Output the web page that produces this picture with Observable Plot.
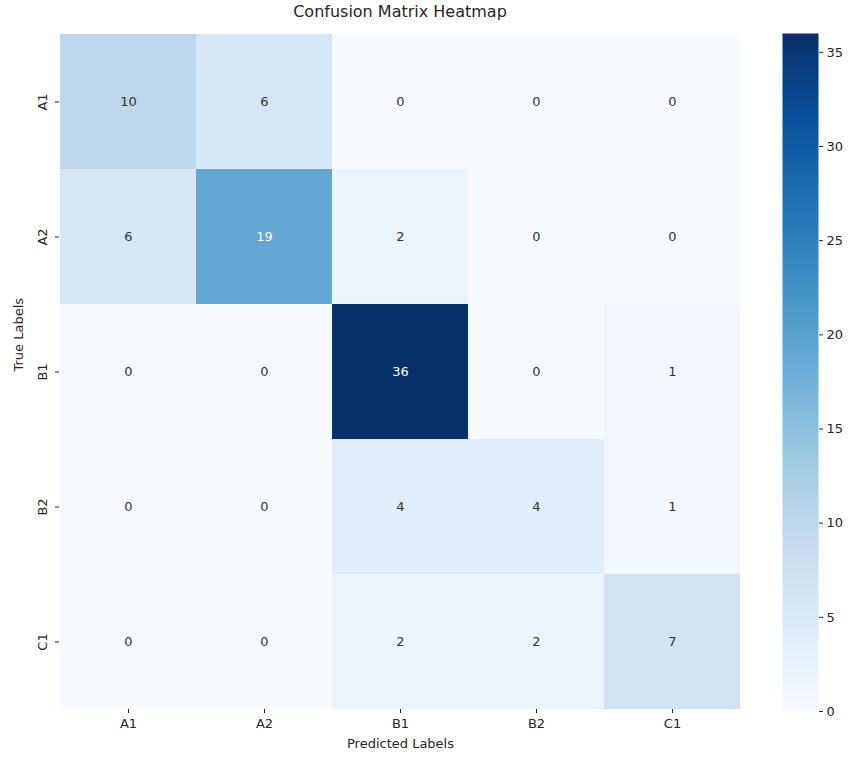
<!DOCTYPE html>
<html><head><meta charset="utf-8">
<script src="https://cdn.jsdelivr.net/npm/d3@7"></script>
<script src="https://cdn.jsdelivr.net/npm/@observablehq/plot@0.6"></script>
<style>
body{margin:0;background:#fff;font-family:"DejaVu Sans",sans-serif;}
#wrap{position:relative;width:851px;height:762px;overflow:hidden;}
#title{position:absolute;left:0;width:800px;top:2px;text-align:center;font-size:16px;color:#262626;font-family:"DejaVu Sans",sans-serif;}
#main{position:absolute;left:0;top:0;}
#cbar{position:absolute;left:760px;top:0;}
</style></head><body>
<div id="wrap"><div id="title">Confusion Matrix Heatmap</div><div id="main"></div><div id="cbar"></div></div>
<script>
// Data
const labels = ["A1", "A2", "B1", "B2", "C1"];
const rowA1 = [10, 6, 0, 0, 0];
const rowA2 = [6, 19, 2, 0, 0];
const rowB1 = [0, 0, 36, 0, 1];
const rowB2 = [0, 0, 4, 4, 1];
const rowC1 = [0, 0, 2, 2, 7];
const colorbarTicks = [0, 5, 10, 15, 20, 25, 30, 35];
const vmax = 36;

const matrix = [rowA1, rowA2, rowB1, rowB2, rowC1];
const cells = [];
labels.forEach((t, i) => labels.forEach((p, j) => cells.push({trueLabel: t, predLabel: p, value: matrix[i][j]})));

// matplotlib "Blues" colormap stops
const BLUES = ["#f7fbff","#deebf7","#c6dbef","#9ecae1","#6baed6","#4292c6","#2171b5","#08519c","#08306b"];
const interp = d3.piecewise(d3.interpolateRgb, BLUES);
const colorOpts = {type: "linear", domain: [0, vmax], interpolate: interp};

function isDark(v) {
  const c = d3.rgb(interp(v / vmax));
  const lin = x => { x /= 255; return x <= 0.03928 ? x / 12.92 : Math.pow((x + 0.055) / 1.055, 2.4); };
  const lum = 0.2126 * lin(c.r) + 0.7152 * lin(c.g) + 0.0722 * lin(c.b);
  return lum <= 0.408;
}

const font = {fontFamily: "DejaVu Sans", fontSize: "13px", color: "#262626", background: "transparent", overflow: "visible"};

const main = Plot.plot({
  width: 760, height: 762,
  marginLeft: 59, marginRight: 19, marginTop: 33, marginBottom: 53,
  style: font,
  x: {domain: labels, padding: 0, label: null},
  y: {domain: labels, padding: 0, label: null},
  color: colorOpts,
  marks: [
    Plot.cell(cells, {x: "predLabel", y: "trueLabel", fill: "value"}),
    Plot.text(cells, {x: "predLabel", y: "trueLabel", text: "value", filter: d => !isDark(d.value), fill: "#333333", fontSize: 13}),
    Plot.text(cells, {x: "predLabel", y: "trueLabel", text: "value", filter: d => isDark(d.value), fill: "white", fontSize: 13}),
    Plot.axisX({tickSize: 4, tickPadding: 5, label: null, fontSize: 13}),
    Plot.axisY({tickSize: 4, tickPadding: 9, tickRotate: -90, label: null, fontSize: 13}),
    Plot.text(["Predicted Labels"], {frameAnchor: "bottom", dy: 38, fontSize: 13, fill: "#262626"}),
    Plot.text(["True Labels"], {frameAnchor: "left", dx: -41, rotate: -90, fontSize: 13, fill: "#262626"})
  ]
});
document.getElementById("main").appendChild(main);

const cbar = Plot.plot({
  width: 91, height: 762,
  marginLeft: 22, marginRight: 33, marginTop: 33, marginBottom: 51,
  style: font,
  x: {domain: [0, 1], axis: null},
  y: {domain: [0, vmax], label: null},
  color: colorOpts,
  marks: [
    Plot.raster({x1: 0, x2: 1, y1: 0, y2: vmax, width: 1, height: 400, fill: (x, y) => y}),
    Plot.axisY({anchor: "right", ticks: colorbarTicks, tickSize: 4, tickPadding: 4, label: null, fontSize: 13})
  ]
});
document.getElementById("cbar").appendChild(cbar);
</script>
</body></html>
